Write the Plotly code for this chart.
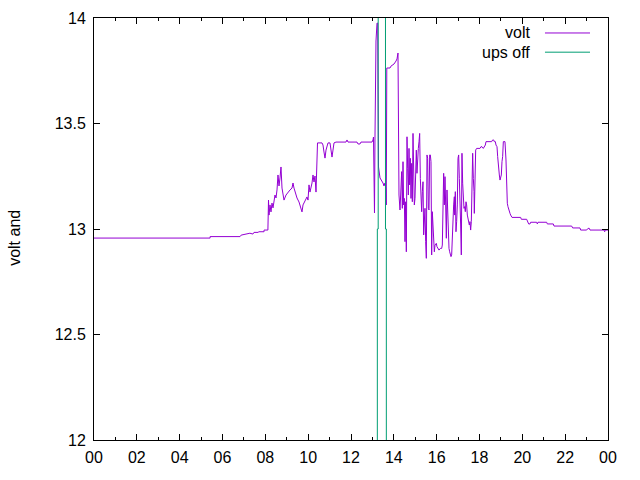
import plotly.graph_objects as go

# ---- data (hours of day, volts) ----
volt_hours = [
    0.00, 5.42, 5.42, 6.82, 6.87, 7.28, 7.42, 7.47, 7.66, 7.70, 7.94, 7.94, 8.12,
    8.148, 8.171, 8.218, 8.264, 8.311, 8.358, 8.405, 8.451, 8.498, 8.545, 8.591,
    8.638, 8.685, 8.731, 8.778, 8.825, 8.872, 8.965, 9.058, 9.152, 9.245, 9.292,
    9.339, 9.385, 9.478, 9.572, 9.665, 9.712, 9.759, 9.852, 9.945, 9.992, 10.039,
    10.085, 10.132, 10.179, 10.226, 10.272, 10.319, 10.366, 10.412, 10.436, 10.646,
    10.692, 10.739, 10.786, 10.833, 10.879, 10.926, 11.019, 11.066, 11.113, 11.159,
    11.206, 11.299, 11.766, 11.813, 11.860, 12.280, 12.326, 12.420, 12.466, 12.980,
    13.027, 13.050, 13.074, 13.097, 13.120, 13.144, 13.167, 13.214, 13.246, 13.260,
    13.284, 13.354, 13.447, 13.494, 13.540, 13.587, 13.634, 13.648, 13.671, 13.821,
    13.867, 14.008, 14.101, 14.148, 14.194, 14.208, 14.241,
    14.288, 14.319, 14.366, 14.397, 14.428, 14.459, 14.490, 14.521, 14.553, 14.584,
    14.615, 14.646, 14.677, 14.708, 14.739, 14.770, 14.801, 14.833, 14.864, 14.895,
    14.926, 14.957, 14.988, 15.019, 15.050, 15.081, 15.113, 15.144, 15.175, 15.206,
    15.237, 15.268, 15.299, 15.331, 15.362, 15.393, 15.424, 15.455, 15.486, 15.517,
    15.548, 15.579, 15.611, 15.642, 15.673, 15.704, 15.735, 15.766, 15.797, 15.829,
    15.860, 15.891, 15.922, 15.984, 16.015, 16.046, 16.109, 16.171, 16.233, 16.264,
    16.295, 16.327, 16.358, 16.389, 16.420, 16.451, 16.482, 16.513, 16.545, 16.576,
    16.607, 16.638, 16.669, 16.700, 16.731, 16.762, 16.793, 16.825,
    16.840, 16.871, 16.902, 16.933, 16.964, 16.996, 17.027, 17.058, 17.089, 17.120,
    17.151, 17.182, 17.214, 17.245, 17.276, 17.307, 17.338, 17.369, 17.400, 17.432,
    17.463, 17.494, 17.525, 17.556, 17.587, 17.618, 17.650, 17.681, 17.712, 17.743,
    17.758, 17.790, 17.821, 17.867, 18.023, 18.069, 18.116, 18.178, 18.225, 18.272,
    18.303, 18.568, 18.614, 18.661, 18.692, 18.739, 18.770, 18.817, 18.848, 18.879,
    18.926, 18.957, 18.988, 19.019, 19.050, 19.081, 19.113, 19.190,
    19.237, 19.268, 19.299, 19.330, 19.361, 19.393, 19.424, 19.455, 19.486, 19.517,
    19.922, 19.953, 20.202, 20.233, 20.296, 20.358, 20.389, 20.669, 20.700, 20.731,
    21.136, 21.167, 21.447, 21.478, 22.303, 22.350, 22.692, 22.723, 23.003, 23.066,
    23.128, 23.159, 23.813, 23.844, 23.875, 24.00,
]
volt_values = [
    12.957, 12.957, 12.964, 12.964, 12.971, 12.980, 12.976, 12.984, 12.984, 12.987, 12.987, 12.995, 12.995,
    13.137, 13.066, 13.114, 13.081, 13.123, 13.100, 13.137, 13.161, 13.147, 13.185, 13.256,
    13.204, 13.242, 13.294, 13.194, 13.152, 13.137, 13.161, 13.175, 13.185, 13.194, 13.218,
    13.194, 13.175, 13.147, 13.128, 13.090, 13.081, 13.114, 13.137, 13.152, 13.137, 13.209,
    13.175, 13.194, 13.218, 13.256, 13.223, 13.251, 13.175, 13.327, 13.408, 13.408,
    13.398, 13.365, 13.336, 13.374, 13.393, 13.408, 13.408, 13.374, 13.341, 13.374,
    13.408, 13.412, 13.412, 13.422, 13.412, 13.412, 13.403, 13.403, 13.412, 13.412,
    13.422, 13.436, 13.256, 13.076, 13.436, 13.820, 13.891, 13.976, 13.976, 13.659,
    13.294, 13.242, 13.227, 13.218, 13.204, 13.218, 13.185, 13.114, 13.763, 13.763,
    13.772, 13.782, 13.796, 13.806, 13.834, 13.526, 13.161,
    13.090, 13.161, 13.272, 13.098, 13.319, 13.114, 13.145, 12.940, 13.129, 12.892,
    13.437, 13.288, 13.161, 13.382, 13.209, 13.335, 13.145, 13.311, 13.129, 13.453,
    13.224, 13.114, 13.145, 13.256, 13.374, 13.264, 13.366, 13.382, 13.414, 13.453,
    13.240, 13.177, 13.082, 13.177, 13.224, 12.972, 13.051, 13.098, 12.940, 12.861,
    13.351, 13.335, 13.098, 13.090, 13.351, 13.351, 13.319, 12.877, 13.082, 12.987,
    12.908, 12.892, 12.924, 12.932, 12.916, 12.908, 12.900, 12.908, 12.908, 12.924,
    13.082, 13.264, 13.114, 13.248, 13.114, 12.956, 13.185, 13.051, 12.924, 12.908,
    12.892, 12.877, 12.869, 12.877, 12.987, 13.098, 13.114, 13.153,
    13.066, 13.177, 12.987, 13.035, 13.114, 13.335, 13.351, 13.240, 13.035, 13.019,
    12.877, 13.359, 13.217, 13.129, 13.098, 13.106, 13.082, 13.129, 13.114, 13.066,
    13.051, 13.043, 13.019, 13.035, 12.995, 13.035, 13.169, 13.359, 13.240, 13.177,
    13.074, 13.359, 13.374, 13.382, 13.382, 13.390, 13.390, 13.382, 13.390, 13.398,
    13.414, 13.414, 13.422, 13.422, 13.414, 13.414, 13.398, 13.390, 13.343, 13.295,
    13.256, 13.232, 13.248, 13.256, 13.319, 13.343, 13.414, 13.414,
    13.327, 13.185, 13.122, 13.106, 13.090, 13.082, 13.074, 13.066, 13.058, 13.055,
    13.055, 13.046, 13.046, 13.035, 13.024, 13.024, 13.032, 13.032, 13.024, 13.032,
    13.032, 13.024, 13.024, 13.014, 13.014, 13.005, 13.005, 12.995, 12.995, 13.003,
    13.003, 12.995, 12.995, 12.987, 12.995, 12.995,
]

ups_hours = [13.23, 13.23, 13.27, 13.27, None, 13.65, 13.65, 13.61, 13.61]
ups_values = [11.0, 13.0, 13.0, 15.0, None, 11.0, 13.0, 13.0, 15.0]

x_tickvals = list(range(0, 25, 2))
x_ticktext = ["00", "02", "04", "06", "08", "10", "12", "14", "16", "18", "20", "22", "00"]
y_tickvals = [12, 12.5, 13, 13.5, 14]
y_ticktext = ["12", "12.5", "13", "13.5", "14"]
series_names = ["volt", "ups off"]
y_label = "volt and"

VOLT_COLOR = "#9400d3"
UPS_COLOR = "#009e73"
FONT = "Liberation Sans, Arial, sans-serif"
FS = 16

fig = go.Figure()
fig.add_trace(go.Scatter(x=volt_hours, y=volt_values, mode="lines",
                         line=dict(color=VOLT_COLOR, width=1), name=series_names[0],
                         showlegend=False))
fig.add_trace(go.Scatter(x=ups_hours, y=ups_values, mode="lines",
                         line=dict(color=UPS_COLOR, width=1), name=series_names[1],
                         showlegend=False, connectgaps=False))

axis_common = dict(showline=True, linecolor="black", linewidth=1, mirror="allticks",
                   ticks="inside", tickcolor="black", ticklen=6, tickwidth=1,
                   showgrid=False, zeroline=False, automargin=False,
                   tickfont=dict(family=FONT, size=FS, color="black"))

fig.update_xaxes(range=[0, 24], tickmode="array", tickvals=x_tickvals, ticktext=x_ticktext,
                 ticklabelstandoff=3,
                 minor=dict(tickmode="linear", tick0=0, dtick=1, ticks="inside",
                            ticklen=3, tickcolor="black", showgrid=False),
                 **axis_common)
fig.update_yaxes(range=[12, 14], tickmode="array", tickvals=y_tickvals, ticktext=y_ticktext,
                 ticklabelstandoff=4,
                 **axis_common)

# gnuplot-style legend (text then sample line), top right inside plot
legend_rows = [0.9645, 0.919]
colors = [VOLT_COLOR, UPS_COLOR]
for name, yy, col in zip(series_names, legend_rows, colors):
    fig.add_annotation(x=0.852, y=yy, xref="paper", yref="paper", text=name,
                       showarrow=False, xanchor="right", yanchor="middle",
                       font=dict(family=FONT, size=FS, color="black"))
    fig.add_shape(type="line", xref="paper", yref="paper", x0=0.8774, x1=0.965,
                  y0=yy, y1=yy, line=dict(color=col, width=1))

fig.add_annotation(x=-0.1537, y=0.479, xref="paper", yref="paper", text=y_label,
                   showarrow=False, textangle=-90, xanchor="center", yanchor="middle",
                   font=dict(family=FONT, size=FS, color="black"))

fig.update_layout(width=640, height=480, margin=dict(l=94, r=32, t=18, b=40),
                  paper_bgcolor="white", plot_bgcolor="white", showlegend=False)

fig.write_html("out.html")
